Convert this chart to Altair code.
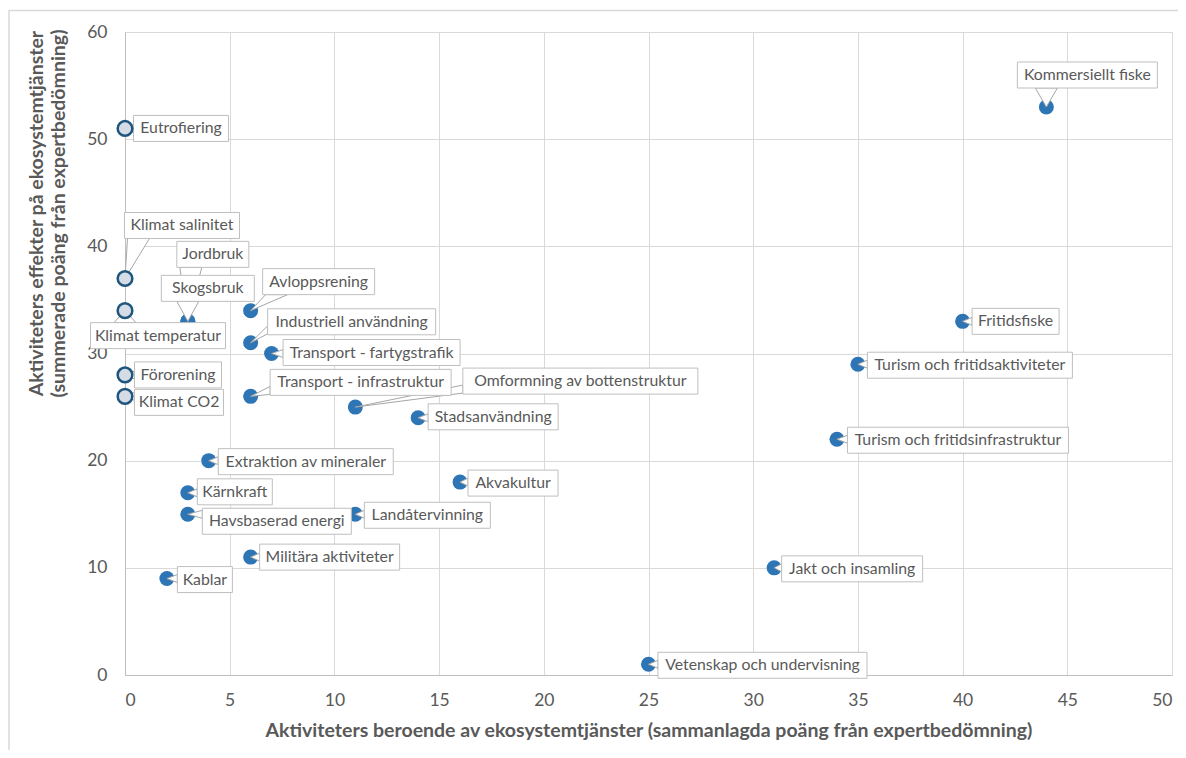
import altair as alt
import pandas as pd

# ---------------- data ----------------
names = [
    "Kommersiellt fiske", "Eutrofiering", "Klimat salinitet", "Jordbruk", "Skogsbruk",
    "Avloppsrening", "Klimat temperatur", "Industriell användning", "Transport - fartygstrafik",
    "Förorening", "Klimat CO2", "Transport - infrastruktur", "Omformning av bottenstruktur",
    "Stadsanvändning", "Extraktion av mineraler", "Kärnkraft", "Havsbaserad energi",
    "Akvakultur", "Landåtervinning", "Militära aktiviteter", "Kablar", "Fritidsfiske",
    "Turism och fritidsaktiviteter", "Turism och fritidsinfrastruktur", "Jakt och insamling",
    "Vetenskap och undervisning",
]
dependence = [44, 0, 0, 3, 3, 6, 0, 6, 7, 0, 0, 6, 11, 14, 4, 3, 3, 16, 11, 6, 2, 40, 35, 34, 31, 25]
effect = [53, 51, 37, 33, 33, 34, 34, 31, 30, 28, 26, 26, 25, 24, 20, 17, 15, 18, 15, 11, 9, 33, 29, 22, 10, 1]
pressure = [False, True, True, False, False, False, True, False, False, True, True, False, False,
            False, False, False, False, False, False, False, False, False, False, False, False, False]

# ---------------- label layout (callout box centre offset from point, box width; px) -------------
label_dx = [41, 56, 57, 25, 20, 68, 33, 101, 100, 53, 54, 110, 225, 75, 97, 47, 89, 53, 72, 79, 38, 53, 112, 121, 78, 114]
label_dy = [-32, 0, -53, -67, -33, -29, 25, -21, -1, 0, 6, -14, -26, -1, 1, -1, 7, 1, 1, 0, 1, 0, 1, 1, 1, 1]
label_w = [140, 95, 115, 72, 93, 112, 135, 168, 177, 87, 89, 181, 235, 130, 175, 75, 149, 90, 126, 140, 55, 87, 205, 221, 141, 209]

W, H = 1047, 643
XMAX, YMAX = 50, 60
SX, SY = W / XMAX, H / YMAX
BOX_H = 26
GREY_TXT = "#595959"
FONT = "Lato"

rows, wedge_rows = [], []
for i, n in enumerate(names):
    x, y = dependence[i], effect[i]
    px, py = x * SX, (YMAX - y) * SY
    cx, cy = px + label_dx[i], py + label_dy[i]
    hw, hh = label_w[i] / 2, BOX_H / 2
    rows.append(dict(name=n, x=x, y=y, pressure=pressure[i],
                     lx=cx / SX, ly=YMAX - cy / SY,
                     bx1=(cx - hw) / SX, bx2=(cx + hw) / SX,
                     by1=YMAX - (cy - hh) / SY, by2=YMAX - (cy + hh) / SY))
    rx, ry = px - cx, py - cy
    if abs(rx) - hw > abs(ry) - hh:
        ex = cx - hw if rx < 0 else cx + hw
        bc = min(max(py, cy - hh + 5), cy + hh - 5)
        b1, b2 = (ex, bc - 4), (ex, bc + 4)
    else:
        ey = cy - hh if ry < 0 else cy + hh
        bc = min(max(px, cx - hw + 14), cx + hw - 14)
        b1, b2 = (bc - 11, ey), (bc + 11, ey)
    for k, (qx, qy) in enumerate([(px, py), b1, b2, (px, py)]):
        wedge_rows.append(dict(name=n, k=k, wx=qx / SX, wy=YMAX - qy / SY))

df = pd.DataFrame(rows)
wdf = pd.DataFrame(wedge_rows)

xs = alt.Scale(domain=[0, XMAX], nice=False, zero=True)
ys = alt.Scale(domain=[0, YMAX], nice=False, zero=True)

base = alt.Chart(df)

points_filled = base.transform_filter("!datum.pressure").mark_circle(
    size=225, color="#2E75B6", opacity=1
).encode(
    x=alt.X("x:Q", scale=xs, axis=alt.Axis(
        values=list(range(0, 51, 5)),
        title="Aktiviteters beroende av ekosystemtjänster (sammanlagda poäng från expertbedömning)",
        titleY=46, titleBaseline="top")),
    y=alt.Y("y:Q", scale=ys, axis=alt.Axis(
        values=list(range(0, 61, 10)),
        title=["Aktiviteters effekter på ekosystemtjänster", "(summerade poäng från expertbedömning)"],
        titleX=-79, titleY=181, titleAlign="center", titleBaseline="bottom", titleAngle=270)),
)

points_hollow = base.transform_filter("datum.pressure").mark_point(
    shape="circle", size=215, filled=True, fill="#D6DCE5", stroke="#1F567E", strokeWidth=2.5, opacity=1
).encode(x="x:Q", y="y:Q")

wedges = alt.Chart(wdf).mark_line(
    fill="white", stroke="#A6A6A6", strokeWidth=1
).encode(x=alt.X("wx:Q", scale=xs), y=alt.Y("wy:Q", scale=ys), detail="name:N", order="k:Q")

boxes = base.mark_rect(fill="white", stroke="#BFBFBF", strokeWidth=1).encode(
    x="bx1:Q", x2="bx2", y="by1:Q", y2="by2"
)

labels = base.mark_text(font=FONT, fontSize=15.8, color=GREY_TXT, align="center", baseline="middle").encode(
    x="lx:Q", y="ly:Q", text="name:N"
)

# outer chart-area frame (decoration, left and top edges visible in the reference)
frame_df = pd.DataFrame({"f": [0]})
frame_left = alt.Chart(frame_df).mark_rule(color="#D9D9D9", strokeWidth=1.5).encode(
    x=alt.value(-116), y=alt.value(-22), y2=alt.value(730))
frame_top = alt.Chart(frame_df).mark_rule(color="#D9D9D9", strokeWidth=1.5).encode(
    x=alt.value(-116), x2=alt.value(1060), y=alt.value(-21.5))

chart = alt.layer(frame_left, frame_top, points_filled, wedges, boxes, labels, points_hollow).properties(
    width=W, height=H,
    autosize=alt.AutoSizeParams(type="none"),
    padding={"left": 117, "top": 24, "right": 6, "bottom": 75},
).configure_view(strokeWidth=0).configure_axis(
    gridColor="#D9D9D9", gridWidth=1, domainColor="#BFBFBF", domainWidth=1,
    ticks=False, tickSize=0,
    labelFont=FONT, labelFontSize=17.5, labelColor=GREY_TXT,
    titleFont=FONT, titleFontSize=19.5, titleFontWeight="bold", titleColor=GREY_TXT,
    titleLineHeight=22,
).configure_axisX(labelPadding=16).configure_axisY(labelPadding=18)

chart.save("out.html", embed_options={"renderer": "svg", "actions": False})
